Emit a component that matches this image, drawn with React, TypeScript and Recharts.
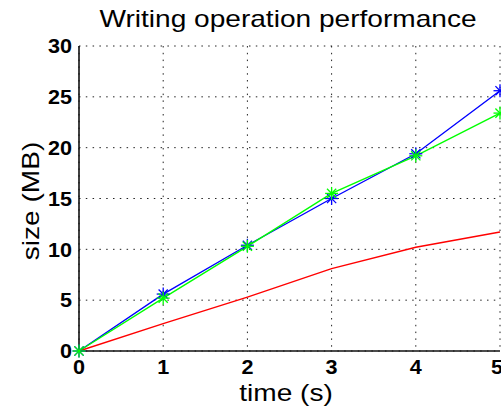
import { LineChart, Line, XAxis, YAxis, CartesianGrid } from 'recharts'

// seconds since the write started
const times = [0, 1, 2, 3, 4, 5]
// written size in MB for each run
const blueSizes = [0, 5.6, 10.4, 15.0, 19.4, 25.6]
const greenSizes = [0, 5.2, 10.3, 15.5, 19.2, 23.4]
const redSizes = [0, 2.7, 5.3, 8.1, 10.2, 11.7]

const xTicks = [0, 1, 2, 3, 4, 5]
const yTicks = [0, 5, 10, 15, 20, 25, 30]

const data = times.map((t, i) => ({
  t,
  blue: blueSizes[i],
  green: greenSizes[i],
  red: redSizes[i],
}))

const FONT = '"Liberation Sans", Arial, sans-serif'

// MATLAB-style '*' marker
const Star = (color: string) => (props: any) => {
  const { cx, cy, index } = props
  if (cx == null || cy == null) return <g key={index} />
  const r = 6.5
  const d = r * 0.707
  return (
    <g key={index} stroke={color} strokeWidth={1.3}>
      <line x1={cx - r} y1={cy} x2={cx + r} y2={cy} />
      <line x1={cx} y1={cy - r} x2={cx} y2={cy + r} />
      <line x1={cx - d} y1={cy - d} x2={cx + d} y2={cy + d} />
      <line x1={cx - d} y1={cy + d} x2={cx + d} y2={cy - d} />
    </g>
  )
}

// bold tick labels, a bit wider like the original
const XTick = (props: any) => {
  const { x, y, payload } = props
  return (
    <g transform={`translate(${x},${y}) scale(1.08,1)`}>
      <text textAnchor="middle" dy="0.36em" fontSize={20} fontWeight="bold" fontFamily={FONT} fill="#000">
        {payload.value}
      </text>
    </g>
  )
}

const YTick = (props: any) => {
  const { x, y, payload } = props
  return (
    <g transform={`translate(${x},${y}) scale(1.08,1)`}>
      <text textAnchor="end" dy="0.36em" fontSize={20} fontWeight="bold" fontFamily={FONT} fill="#000">
        {payload.value}
      </text>
    </g>
  )
}

export default function App() {
  const labelStyle: any = {
    position: 'absolute',
    fontFamily: FONT,
    fontSize: 24,
    lineHeight: '24px',
    textAlign: 'center',
    whiteSpace: 'nowrap',
    color: '#000',
  }
  return (
    <div style={{ position: 'absolute', left: 0, top: 0, width: 501, height: 414, background: '#fff', overflow: 'hidden' }}>
      <LineChart width={501} height={414} data={data} margin={{ top: 46, right: 1, bottom: 0, left: 0 }} style={{ position: 'absolute', left: 0, top: 0 }}>
        <CartesianGrid stroke="#222" strokeDasharray="1.5 5.3" />
        <XAxis
          dataKey="t"
          type="number"
          domain={[0, 5]}
          ticks={xTicks}
          height={63}
          tick={<XTick />}
          tickLine={false}
          axisLine={{ stroke: '#111', strokeWidth: 1.6 }}
          tickMargin={10}
        />
        <XAxis xAxisId="top" orientation="top" dataKey="t" type="number" domain={[0, 5]} height={0} tick={false} tickLine={false} axisLine={{ stroke: '#111', strokeWidth: 1.6 }} />
        <YAxis
          type="number"
          domain={[0, 30]}
          ticks={yTicks}
          width={79}
          tick={<YTick />}
          tickLine={false}
          axisLine={{ stroke: '#111', strokeWidth: 1.6 }}
          tickMargin={1}
        />
        <YAxis yAxisId="right" orientation="right" domain={[0, 30]} width={0} tick={false} tickLine={false} axisLine={{ stroke: '#111', strokeWidth: 1.6 }} />
        <Line dataKey="red" stroke="#ff0000" strokeWidth={1.4} dot={false} isAnimationActive={false} />
        <Line dataKey="blue" stroke="#0000ff" strokeWidth={1.4} dot={Star('#0000ff')} isAnimationActive={false} />
        <Line dataKey="green" stroke="#00ff00" strokeWidth={1.4} dot={Star('#00ff00')} isAnimationActive={false} />
      </LineChart>
      <div style={{ ...labelStyle, left: 287.5 - 250, width: 500, top: 6.5, transform: 'scaleX(1.17)' }}>
        Writing operation performance
      </div>
      <div style={{ ...labelStyle, left: 285.5 - 100, width: 200, top: 381, transform: 'scaleX(1.17)' }}>
        time (s)
      </div>
      <div style={{ ...labelStyle, left: 31 - 100, width: 200, top: 201 - 12, transform: 'rotate(-90deg) scaleX(1.17)' }}>
        size (MB)
      </div>
    </div>
  )
}
